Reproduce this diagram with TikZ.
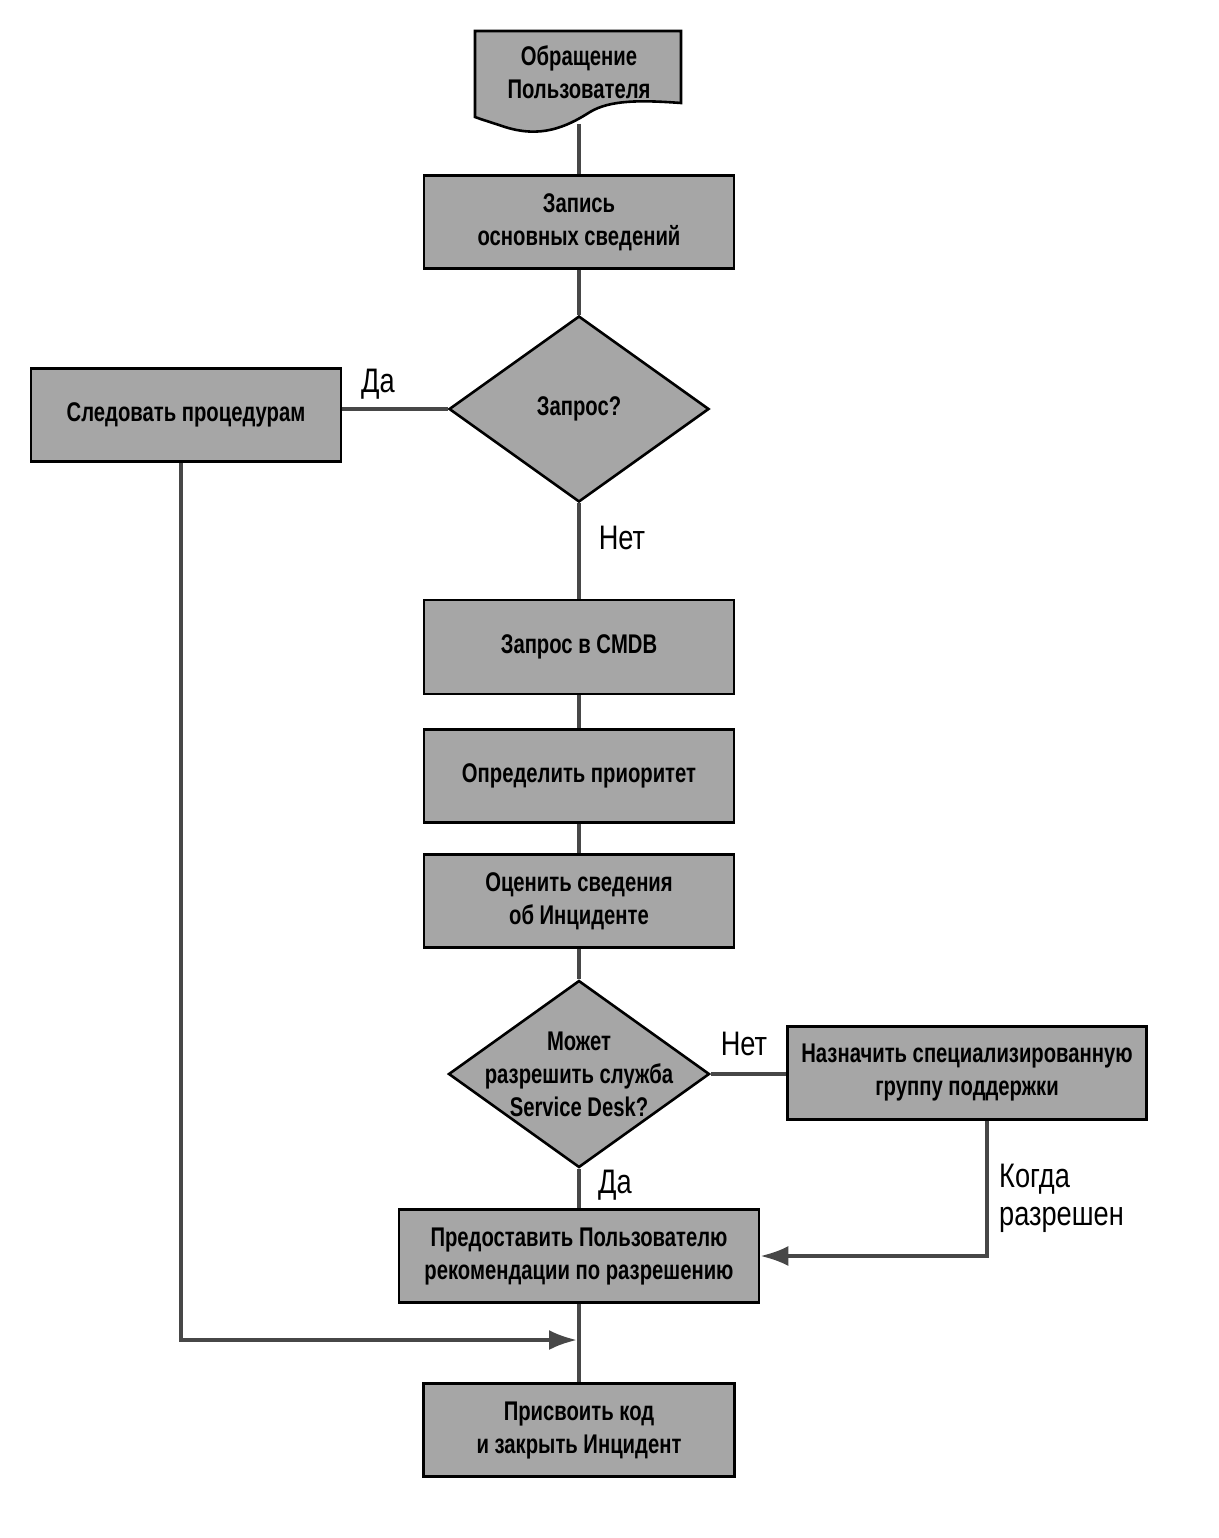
\documentclass[tikz,border=0pt]{standalone}
\usepackage{fontspec}
\setmainfont{Liberation Sans}[FakeStretch=0.8]
\newfontfamily\boxfont{Liberation Sans}[FakeStretch=0.75]
\usetikzlibrary{shapes.geometric,arrows.meta,calc}
\begin{document}
\begin{tikzpicture}[x=1pt,y=-1pt,
  boxfill/.style={fill=black!35},
  boxtext/.style={font=\boxfont\bfseries\fontsize{27}{33}\selectfont},
  procbox/.style={draw=black,line width=2.6pt,boxfill,inner sep=0pt,align=center,boxtext},
  decbox/.style={diamond,draw=black,line width=2.6pt,boxfill,inner sep=0pt},
  conn/.style={draw=black!72,line width=3.6pt},
  arr/.style={conn,-{Latex[length=28pt,width=20pt]}},
  lbl/.style={font=\fontsize{34}{38}\selectfont,inner sep=0pt},
]
\useasboundingbox (0,0) rectangle (1218,1538);
% document shape
\draw[line width=2.6pt,boxfill] (475,31) -- (681,31) -- (681,103)
   .. controls (640,100) and (610,100) .. (590,112)
   .. controls (565,128) and (540,138) .. (505,127)
   .. controls (490,122) and (480,119) .. (475,117) -- cycle;
\node[align=center,boxtext,inner sep=0pt] (doc) at (579,72) {Обращение\\Пользователя};
\coordinate (docb) at (579,124);
\node[procbox,minimum width=310pt,minimum height=93pt] (rec) at (579,222) {Запись\\основных сведений};
\node[decbox,minimum width=260pt,minimum height=186pt,
  label={[boxtext,align=center]center:Запрос?}] (q1) at (579,409) {};
\node[procbox,minimum width=310pt,minimum height=93pt] (proc) at (186,415) {Следовать процедурам};
\node[procbox,minimum width=310pt,minimum height=94pt] (cmdb) at (579,647) {Запрос в CMDB};
\node[procbox,minimum width=310pt,minimum height=93pt] (prio) at (579,776) {Определить приоритет};
\node[procbox,minimum width=310pt,minimum height=93pt] (eval) at (579,901) {Оценить сведения\\об Инциденте};
\node[decbox,minimum width=261pt,minimum height=187pt,
  label={[boxtext,align=center]center:Может\\разрешить служба\\Service Desk?}] (q2) at (579,1074) {};
\node[procbox,minimum width=359pt,minimum height=93pt] (assign) at (967,1073) {Назначить специализированную\\группу поддержки};
\node[procbox,minimum width=360pt,minimum height=93pt] (adv) at (579,1256) {Предоставить Пользователю\\рекомендации по разрешению};
\node[procbox,minimum width=311pt,minimum height=93pt] (close) at (579,1430) {Присвоить код\\и закрыть Инцидент};
\coordinate (join) at (577,1340);
% connectors
\path[conn] (docb) -- (rec.north);
\path[conn] (rec.south) -- (q1.north);
\path[conn] (q1.west) -- (q1.west -| proc.east);
\path[conn] (q1.south) -- (cmdb.north);
\path[conn] (cmdb.south) -- (prio.north);
\path[conn] (prio.south) -- (eval.north);
\path[conn] (eval.south) -- (q2.north);
\path[conn] (q2.east) -- (q2.east -| assign.west);
\path[conn] (q2.south) -- (adv.north);
\path[conn] (adv.south) -- (close.north);
\path[arr] ([xshift=20pt]assign.south) |- (adv.east);
\path[arr] ([xshift=-5pt]proc.south) |- (join);
% labels
\node[lbl] (da1) at (378,384) {Да};
\node[lbl] (net1) at (622,538) {Нет};
\node[lbl] (net2) at (744,1044) {Нет};
\node[lbl] (da2) at (615,1185) {Да};
\node[lbl,align=left,anchor=west] (kogda) at (999,1198) {Когда\\разрешен};
\end{tikzpicture}
\end{document}
